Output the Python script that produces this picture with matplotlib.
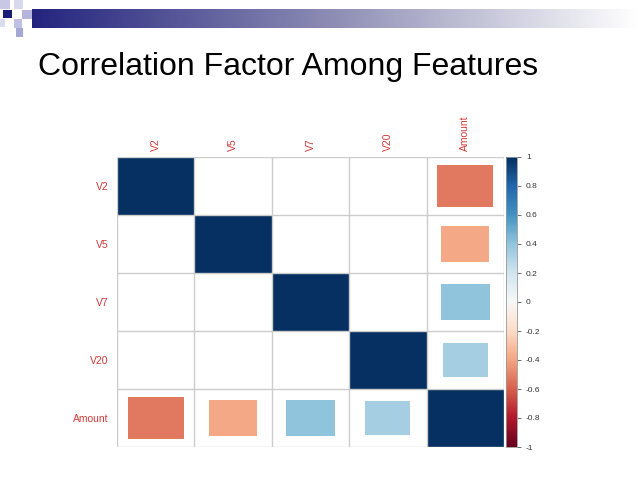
import numpy as np
import matplotlib.pyplot as plt
from matplotlib.patches import Rectangle
from matplotlib.colors import LinearSegmentedColormap, Normalize
import matplotlib as mpl

plt.rcParams['font.family'] = ['Liberation Sans', 'DejaVu Sans']

# data
features = ['V2', 'V5', 'V7', 'V20', 'Amount']
corr = np.array([
    [1.00, 0.00, 0.00, 0.00, -0.53],
    [0.00, 1.00, 0.00, 0.00, -0.39],
    [0.00, 0.00, 1.00, 0.00, 0.40],
    [0.00, 0.00, 0.00, 1.00, 0.34],
    [-0.53, -0.39, 0.40, 0.34, 1.00],
])
cbar_ticks = [-1, -0.8, -0.6, -0.4, -0.2, 0, 0.2, 0.4, 0.6, 0.8, 1]

W, H = 638, 479
fig = plt.figure(figsize=(W / 100, H / 100), dpi=100)

def box(x0, y0, x1, y1):
    # pixel box -> figure fraction rect
    return [x0 / W, 1 - y1 / H, (x1 - x0) / W, (y1 - y0) / H]

# slide decoration: gradient bar + small squares
deco = fig.add_axes([0, 0, 1, 1])
deco.set_xlim(0, W)
deco.set_ylim(H, 0)
deco.axis('off')
grad = np.linspace(0, 1, 256).reshape(1, -1)
bar_cmap = LinearSegmentedColormap.from_list('bar', ['#24247f', '#8e8eb5', '#ffffff'])
deco.imshow(grad, cmap=bar_cmap, extent=[32, 638, 28, 9], aspect='auto')
for (x, y, w, h, c) in [(0, 0, 10, 9, '#c8c8e6'), (3, 10, 9, 8, '#1c1c78'),
                        (14, 0, 9, 9, '#d8d8ee'), (22, 10, 10, 9, '#b4b4dc'),
                        (14, 19, 8, 9, '#c0c0e2'), (16, 28, 7, 9, '#a8a8d4'),
                        (0, 19, 5, 8, '#dcdcf0')]:
    deco.add_patch(Rectangle((x, y), w, h, color=c, lw=0))

fig.text(38 / W, 1 - 67 / H, 'Correlation Factor Among Features',
         fontsize=23, va='center', ha='left', color='black')

# correlation plot
ax = fig.add_axes(box(117, 157, 504, 447))
n = len(features)
cmap = plt.get_cmap('RdBu')
norm = Normalize(-1, 1)
for i in range(n):
    for j in range(n):
        r = corr[i, j]
        s = np.sqrt(abs(r))
        if s > 0:
            ax.add_patch(Rectangle((j + (1 - s) / 2, i + (1 - s) / 2), s, s,
                                   color=cmap(norm(r)), lw=0))
for k in range(n + 1):
    ax.axhline(k, color='#cccccc', lw=1)
    ax.axvline(k, color='#cccccc', lw=1)
ax.set_xlim(0, n)
ax.set_ylim(n, 0)
ax.set_xticks(np.arange(n) + 0.5)
ax.set_xticklabels(features, rotation=90, color='#d03a3a', fontsize=7.5)
ax.xaxis.tick_top()
ax.set_yticks(np.arange(n) + 0.5)
ax.set_yticklabels(features, color='#d03a3a', fontsize=7.5)
ax.tick_params(axis='x', length=0, pad=4)
ax.tick_params(axis='y', length=0, pad=6)
for sp in ax.spines.values():
    sp.set_visible(False)

# colorbar
cax = fig.add_axes(box(506, 157, 517, 447))
cb = mpl.colorbar.ColorbarBase(cax, cmap=cmap, norm=norm, ticks=cbar_ticks)
cb.set_ticklabels([f'{t:g}' for t in cbar_ticks])
cb.outline.set_edgecolor('#999999')
cb.outline.set_linewidth(0.6)
cax.tick_params(labelsize=6, length=3, width=0.6, color='#555555', labelcolor='#333333')

fig.savefig('out.png', dpi=100)
